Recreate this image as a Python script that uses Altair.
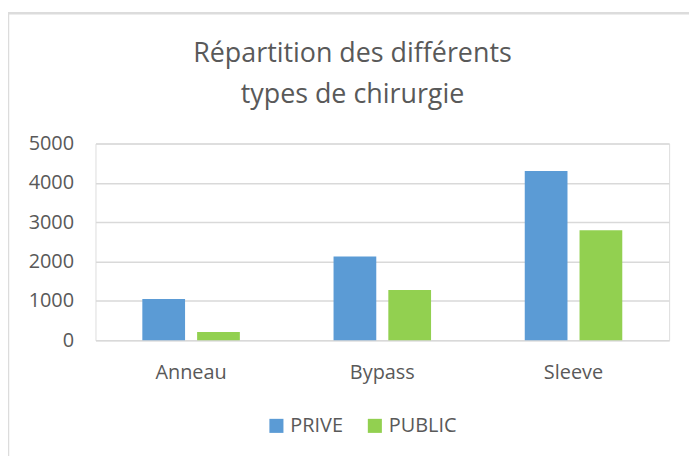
import altair as alt
import pandas as pd

categories = ["Anneau", "Bypass", "Sleeve"]
series = ["PRIVE", "PUBLIC"]
prive = [1050, 2130, 4300]
public = [210, 1280, 2800]
colors = ["#5B9BD5", "#92D050"]

rows = []
for i, c in enumerate(categories):
    rows.append({"cat": c, "serie": "PRIVE", "val": prive[i]})
    rows.append({"cat": c, "serie": "PUBLIC", "val": public[i]})
df = pd.DataFrame(rows)

FONT = "Open Sans"
TXT = "#595959"

bars = alt.Chart(df).mark_bar().encode(
    x=alt.X("cat:N", sort=categories, title=None,
            scale=alt.Scale(paddingInner=0.49, paddingOuter=0.245),
            axis=alt.Axis(labelAngle=0, domain=False, ticks=False, labelPadding=22,
                          labelFontSize=20, labelColor=TXT, labelFont=FONT)),
    xOffset=alt.XOffset("serie:N", sort=series, scale=alt.Scale(paddingInner=0.22, paddingOuter=0)),
    y=alt.Y("val:Q", title=None, scale=alt.Scale(domain=[0, 5000]),
            axis=alt.Axis(values=[0, 1000, 2000, 3000, 4000, 5000], format="d", domain=False, ticks=False,
                          labelPadding=22, gridColor="#d9d9d9", gridWidth=1.5,
                          labelFontSize=20, labelColor=TXT, labelFont=FONT)),
    color=alt.Color("serie:N", sort=series, title=None,
                    scale=alt.Scale(domain=series, range=colors),
                    legend=alt.Legend(orient="none", direction="horizontal", legendX=172, legendY=274,
                                      symbolType="square", symbolSize=200, symbolStrokeWidth=0,
                                      labelFontSize=20, labelColor=TXT, labelFont=FONT,
                                      columnPadding=22, labelOffset=4)),
)

border = alt.Chart(pd.DataFrame({"a": [0]})).mark_rect(
    fill=None, stroke="#dcdcdc", strokeWidth=2.5
).encode(x=alt.value(-88), x2=alt.value(640), y=alt.value(-131), y2=alt.value(340))

chart = alt.layer(border, bars).properties(
    width=577, height=198,
    title=alt.TitleParams(["Répartition des différents", "types de chirurgie"],
                          anchor="middle", dx=-30, offset=-97, fontSize=27,
                          font=FONT, fontWeight="normal", color=TXT, lineHeight=41),
    autosize=alt.AutoSizeParams(type="none"),
    padding={"left": 88, "top": 135, "right": 20, "bottom": 115},
).configure_view(stroke=None).configure(background="white")

chart.save("out.html", embed_options={"renderer": "svg", "actions": False})
